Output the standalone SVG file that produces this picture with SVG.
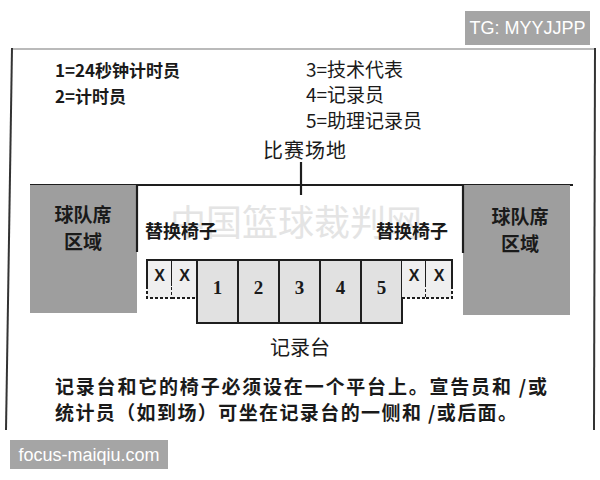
<svg xmlns="http://www.w3.org/2000/svg" width="600" height="480" viewBox="0 0 600 480">
<style>
  .cjk { font-family: "Noto Sans CJK SC", "Liberation Serif", serif; fill: #1a1a1a; }
  .b { font-weight: bold; }
  .line { stroke: #1e1e1e; stroke-width: 2.2; fill: none; }
  .frame { stroke: #333; stroke-width: 2; fill: none; }
  .bench { fill: #9e9e9e; }
  .num { fill: #e1e1e1; stroke: #1e1e1e; stroke-width: 2; }
  .xbox { fill: #efefef; }
  .xedge { stroke: #1e1e1e; stroke-width: 2; fill: none; }
  .dash { stroke: #1e1e1e; stroke-width: 2; fill: none; stroke-dasharray: 3 2; }
  .lbl { font-family: "Liberation Serif", "Noto Sans CJK SC", serif; font-weight: bold; fill: #1a1a1a; text-anchor: middle; }
  .xl { font-family: "Liberation Sans", Arial, sans-serif; font-weight: bold; fill: #1a1a1a; text-anchor: middle; font-size: 16px; }
  .tag { fill: #a5a5a5; }
  .tagtext { font-family: "Liberation Sans", Arial, sans-serif; fill: #ffffff; font-size: 18px; }
</style>
<rect x="0" y="0" width="600" height="480" fill="#ffffff"/>

<g id="frame">
  <line x1="12" y1="49" x2="594" y2="49" stroke="#777" stroke-width="1.2"/>
  <line class="frame" x1="12" y1="48" x2="6" y2="430"/>
  <line class="frame" x1="595" y1="48" x2="594" y2="430"/>
</g>

<g id="watermark">
  <text x="170" y="236" font-family="Noto Sans CJK SC, sans-serif" font-size="36" fill="#e4e4e4">中国篮球裁判网</text>
</g>

<g id="legend">
  <text class="cjk b" x="55" y="77" font-size="17">1=24秒钟计时员</text>
  <text class="cjk b" x="55" y="103" font-size="17">2=计时员</text>
  <text class="cjk" x="306" y="77" font-size="19">3=技术代表</text>
  <text class="cjk" x="306" y="102" font-size="19">4=记录员</text>
  <text class="cjk" x="306" y="128" font-size="19">5=助理记录员</text>
</g>

<g id="playing-court">
  <text class="cjk" x="263" y="158" font-size="20" letter-spacing="1">比赛场地</text>
  <line class="line" x1="30" y1="185" x2="573" y2="185" stroke-width="2.6"/>
</g>

<g id="bench-left">
  <rect class="bench" x="30" y="185" width="107" height="128"/>
  <line class="line" x1="137" y1="185" x2="137" y2="252"/>
  <text class="cjk b" x="83" y="222" font-size="19" text-anchor="middle">球队席</text>
  <text class="cjk b" x="83" y="249" font-size="19" text-anchor="middle">区域</text>
</g>

<g id="bench-right">
  <rect class="bench" x="463" y="185" width="107" height="130"/>
  <line class="line" x1="463" y1="185" x2="463" y2="253"/>
  <text class="cjk b" x="520" y="224" font-size="19" text-anchor="middle">球队席</text>
  <text class="cjk b" x="520" y="251" font-size="19" text-anchor="middle">区域</text>
</g>

<g id="sub-chairs-left-label">
  <text class="cjk b" x="145" y="238" font-size="18">替换椅子</text>
</g>
<g id="sub-chairs-right-label">
  <text class="cjk b" x="376" y="238" font-size="18">替换椅子</text>
</g>

<g id="chair-x1">
  <rect class="xbox" x="147" y="260" width="25" height="38"/>
  <path class="xedge" d="M147 286 V260 H172 V286"/>
  <path class="dash" d="M147 286 V298 H172 V286"/>
  <text class="xl" x="159.5" y="281">X</text>
</g>
<g id="chair-x2">
  <rect class="xbox" x="172" y="260" width="25" height="38"/>
  <path class="xedge" d="M172 260 H197"/>
  <path class="dash" d="M172 298 H197"/>
  <text class="xl" x="184.5" y="281">X</text>
</g>

<g id="chair-1">
  <rect class="num" x="197" y="260" width="41" height="63"/>
  <text class="lbl" x="217.5" y="294" font-size="19">1</text>
</g>
<g id="chair-2">
  <rect class="num" x="238" y="260" width="41" height="63"/>
  <text class="lbl" x="258.5" y="294" font-size="19">2</text>
</g>
<g id="chair-3">
  <rect class="num" x="279" y="260" width="41" height="63"/>
  <text class="lbl" x="299.5" y="294" font-size="19">3</text>
</g>
<g id="chair-4">
  <rect class="num" x="320" y="260" width="41" height="63"/>
  <text class="lbl" x="340.5" y="294" font-size="19">4</text>
</g>
<g id="chair-5">
  <rect class="num" x="361" y="260" width="41" height="63"/>
  <text class="lbl" x="381.5" y="294" font-size="19">5</text>
</g>

<g id="chair-x3">
  <rect class="xbox" x="402" y="260" width="24" height="38"/>
  <path class="xedge" d="M402 260 H426 V286"/>
  <path class="dash" d="M402 298 H426 V286"/>
  <text class="xl" x="414" y="281">X</text>
</g>
<g id="chair-x4">
  <rect class="xbox" x="426" y="260" width="26" height="38"/>
  <path class="xedge" d="M426 260 H452 V286"/>
  <path class="dash" d="M426 298 H452 V286"/>
  <text class="xl" x="439" y="281">X</text>
</g>

<g id="scorer-table-label">
  <text class="cjk" x="270" y="355" font-size="20">记录台</text>
</g>

<g id="note">
  <text class="cjk b" x="55" y="394" font-size="19" textLength="492" lengthAdjust="spacing">记录台和它的椅子必须设在一个平台上。宣告员和 /或</text>
  <text class="cjk b" x="55" y="420" font-size="19" textLength="462" lengthAdjust="spacing">统计员（如到场）可坐在记录台的一侧和 /或后面。</text>
</g>

<g id="connectors">
  <line class="line" x1="301" y1="162" x2="301" y2="195"/>
</g>

<g id="tag-tg">
  <rect class="tag" x="465" y="11" width="125" height="34"/>
  <text class="tagtext" x="527.5" y="34" text-anchor="middle">TG: MYYJJPP</text>
</g>
<g id="tag-site">
  <rect class="tag" x="10" y="440" width="158" height="29"/>
  <text class="tagtext" x="89" y="461" text-anchor="middle">focus-maiqiu.com</text>
</g>
</svg>
